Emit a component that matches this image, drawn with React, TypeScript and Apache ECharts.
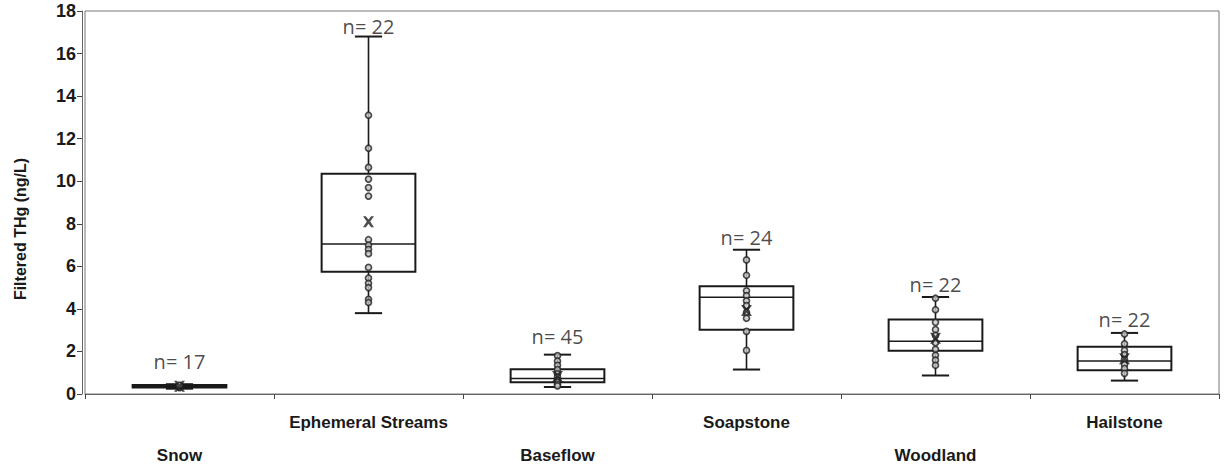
import React, { useEffect, useRef } from "react";
import * as echarts from "echarts";

// Site categories along the x axis
const categories = ["Snow", "Ephemeral Streams", "Baseflow", "Soapstone", "Woodland", "Hailstone"];

// Box statistics per site: [min, Q1, median, Q3, max] (ng/L)
const boxStats = [
  [0.25, 0.3, 0.36, 0.42, 0.46],
  [3.8, 5.75, 7.05, 10.35, 16.8],
  [0.33, 0.55, 0.73, 1.16, 1.85],
  [1.15, 3.02, 4.55, 5.06, 6.78],
  [0.87, 2.03, 2.48, 3.5, 4.56],
  [0.63, 1.12, 1.55, 2.22, 2.87],
];

// Sample sizes
const sampleCounts = [17, 22, 45, 24, 22, 22];

// Mean values per site
const means = [0.36, 8.1, 0.82, 3.92, 2.62, 1.66];

// Individual observations per site
const snowPoints = [0.3, 0.34, 0.38, 0.42];
const ephemeralPoints = [13.1, 11.55, 10.65, 10.1, 9.7, 9.3, 7.25, 7.0, 6.8, 6.6, 5.95, 5.45, 5.2, 5.0, 4.45, 4.3];
const baseflowPoints = [1.8, 1.55, 1.35, 1.15, 0.95, 0.8, 0.65, 0.55, 0.45, 0.38];
const soapstonePoints = [6.3, 5.58, 4.85, 4.62, 4.38, 4.15, 3.84, 3.56, 2.94, 2.05];
const woodlandPoints = [4.5, 3.96, 3.37, 3.03, 2.75, 2.41, 2.1, 1.82, 1.59, 1.35];
const hailstonePoints = [2.82, 2.36, 2.05, 1.85, 1.63, 1.38, 1.2, 0.97];

const pointsBySite = [snowPoints, ephemeralPoints, baseflowPoints, soapstonePoints, woodlandPoints, hailstonePoints];

// Gap between whisker top and "n=" label per site
const labelGaps = [12, 0, 8, 2, 2, 3];

// Y axis
const yMin = 0;
const yMax = 18;
const yInterval = 2;

const INK = "#1a1a1a";

export default function App() {
  const ref = useRef<HTMLDivElement>(null);

  useEffect(() => {
    if (!ref.current) return;
    const chart = echarts.init(ref.current, null, { renderer: "svg" });

    const boxData = boxStats.map((s, i) => [i, ...s]);
    const scatterData: number[][] = [];
    pointsBySite.forEach((pts, i) => pts.forEach((v) => scatterData.push([i, v])));
    const meanData = means.map((m, i) => [i, m]);
    const nData = boxStats.map((s, i) => ({
      value: [i, s[4]],
      label: { distance: labelGaps[i] },
    }));

    const renderBox = (params: any, api: any) => {
      const idx = api.value(0);
      const lo = api.coord([idx, api.value(1)]);
      const q1 = api.coord([idx, api.value(2)]);
      const med = api.coord([idx, api.value(3)]);
      const q3 = api.coord([idx, api.value(4)]);
      const hi = api.coord([idx, api.value(5)]);
      const band = api.size([1, 0])[0];
      const half = band * 0.248;
      const cap = band * 0.072;
      const x = lo[0];
      const ls = { stroke: INK, lineWidth: 1.6, fill: "none" };
      return {
        type: "group",
        children: [
          { type: "line", shape: { x1: x, y1: hi[1], x2: x, y2: q3[1] }, style: ls },
          { type: "line", shape: { x1: x, y1: q1[1], x2: x, y2: lo[1] }, style: ls },
          { type: "line", shape: { x1: x - cap, y1: hi[1], x2: x + cap, y2: hi[1] }, style: { ...ls, lineWidth: 2 } },
          { type: "line", shape: { x1: x - cap, y1: lo[1], x2: x + cap, y2: lo[1] }, style: { ...ls, lineWidth: 2 } },
          {
            type: "rect",
            shape: { x: x - half, y: q3[1], width: half * 2, height: q1[1] - q3[1] },
            style: { stroke: INK, lineWidth: 2, fill: "#fff" },
          },
          { type: "line", shape: { x1: x - half, y1: med[1], x2: x + half, y2: med[1] }, style: { ...ls, lineWidth: 1.4 } },
        ],
      };
    };

    chart.setOption({
      animation: false,
      backgroundColor: "#fff",
      grid: {
        left: 85,
        right: 6,
        top: 11,
        bottom: 75,
        show: true,
        borderColor: "#777",
        borderWidth: 1,
      },
      xAxis: {
        type: "category",
        data: categories,
        offset: 3,
        boundaryGap: true,
        axisLine: { lineStyle: { color: "#666", width: 1 } },
        axisTick: { show: true, alignWithLabel: false, length: 5, lineStyle: { color: "#444" } },
        axisLabel: {
          interval: 0,
          margin: 9,
          color: INK,
          fontWeight: "bold",
          fontSize: 17,
          lineHeight: 33,
          fontFamily: "'Liberation Sans', Arial, sans-serif",
          formatter: (v: string, i: number) => (i % 2 === 0 ? "\n" + v : v),
        },
        splitLine: { show: false },
      },
      yAxis: {
        type: "value",
        min: yMin,
        max: yMax,
        interval: yInterval,
        offset: 3,
        axisLine: { show: true, lineStyle: { color: "#666", width: 1 } },
        axisTick: { show: true, length: 5, lineStyle: { color: "#444" } },
        axisLabel: {
          margin: 6,
          color: INK,
          fontWeight: "bold",
          fontSize: 18,
          fontFamily: "'Liberation Sans', Arial, sans-serif",
        },
        splitLine: { show: false },
      },
      graphic: [
        {
          type: "text",
          x: 20,
          y: 229,
          rotation: Math.PI / 2,
          style: {
            text: "Filtered THg (ng/L)",
            fill: INK,
            font: "bold 16px 'Liberation Sans', Arial, sans-serif",
            align: "center",
            verticalAlign: "middle",
          },
        },
      ],
      series: [
        {
          type: "custom",
          name: "box",
          renderItem: renderBox,
          data: boxData,
          encode: { x: 0, y: [1, 2, 3, 4, 5] },
          z: 2,
        },
        {
          type: "scatter",
          name: "observations",
          data: scatterData,
          symbol: "circle",
          symbolSize: 6,
          itemStyle: { color: "#c8c8c8", borderColor: "#222", borderWidth: 1.7 },
          z: 3,
        },
        {
          type: "scatter",
          name: "mean",
          data: meanData,
          symbol: "path://M0,0L2.6,0L5,3L7.4,0L10,0L6.6,4.9L10,10L7.4,10L5,6.8L2.6,10L0,10L3.4,4.9Z",
          symbolSize: [11, 11],
          itemStyle: { color: "#222" },
          z: 4,
        },
        {
          type: "scatter",
          name: "n",
          data: nData,
          symbol: "circle",
          symbolSize: 1,
          itemStyle: { color: "rgba(0,0,0,0)" },
          label: {
            show: true,
            position: "top",
            formatter: (p: any) => "n= " + sampleCounts[p.dataIndex],
            color: INK,
            fontSize: 20,
            fontFamily: "'Open Sans', 'Liberation Sans', sans-serif",
          },
          z: 5,
        },
      ],
    });

    return () => chart.dispose();
  }, []);

  return <div ref={ref} style={{ width: 1225, height: 472, position: "absolute", left: 0, top: 0 }} />;
}
